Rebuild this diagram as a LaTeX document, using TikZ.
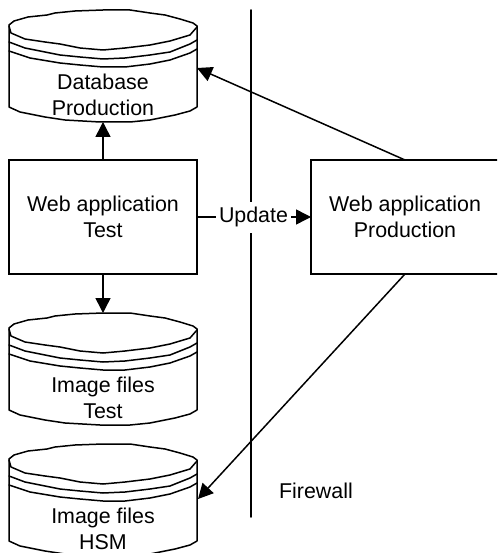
\documentclass[tikz,border=0pt]{standalone}
\usepackage{fontspec}
\setmainfont{Liberation Sans}
\usetikzlibrary{arrows.meta}
\tikzset{
  x=1pt,y=-1pt,
  every node/.style={font=\fontsize{21.4}{26}\selectfont,align=center},
  ln/.style={line width=1.5pt,line join=round,line cap=round,black},
  boxnode/.style={draw,line width=1.5pt,fill=white,minimum width=188pt,minimum height=114pt,inner sep=0pt,outer sep=0pt},
  cylnode/.style={minimum width=188pt,minimum height=112pt,inner sep=0pt,outer sep=0pt},
  conn/.style={line width=1.5pt,-{Triangle[length=15pt,width=15pt]},shorten >=0pt},
  cylinder outline/.pic={
    \filldraw[ln,fill=white] (9,25)--(14,21)--(28,17)--(47,15)--(55,13)--(75,11)--(103,10)--(130,10)--(150,13)--(165,15)--(180,19)--(193,23)--(197,26)--(197,107)--(190,111)--(175,115)--(150,120)--(130,122)--(100,122)--(65,120)--(45,117)--(20,112)--(9,107)--cycle;
    \draw[ln] (9,26)--(11,33)--(25,39)--(45,42)--(60,44)--(80,48)--(103,50)--(125,48)--(150,45)--(170,41)--(190,35)--(197,27);
    \draw[ln] (9,42)--(25,48)--(45,52)--(60,55)--(80,57)--(103,59)--(125,58)--(150,55)--(170,52)--(190,44)--(197,40);
    \draw[ln] (9,51)--(30,58)--(60,63)--(80,65)--(103,67)--(125,67)--(150,64)--(170,60)--(190,53)--(197,49);
  }
}
\begin{document}
\begin{tikzpicture}
\useasboundingbox (0,0) rectangle (497,553);
\clip (0,0) rectangle (497,553);
\fill[white] (0,0) rectangle (497,553);
% firewall
\coordinate (fwtop) at (251,10);
\coordinate (fwbot) at (251,517);
\draw[ln] (fwtop) -- (fwbot);
% cylinders
\pic at (0,0) {cylinder outline};
\pic at (0,303) {cylinder outline};
\pic at (0,434) {cylinder outline};
\node[cylnode] (db) at (103,66) {};
\node[cylnode] (imgtest) at (103,369) {};
\node[cylnode] (imghsm) at (103,500) {};
\node (dbtext) at (103,95) {Database\\Production};
\node (imgtesttext) at (103,398) {Image files\\Test};
\node (imghsmtext) at (103,529) {Image files\\HSM};
% boxes
\node[boxnode] (test) at (103,217) {Web application\\Test};
\node[boxnode] (prod) at (405,217) {Web application\\Production};
% anchors for the slanted connectors
\coordinate (prodtop) at (405,160);
\coordinate (prodbot) at (405,274);
\coordinate (dbside) at (197,68);
\coordinate (hsmside) at (198,499);
% connectors
\draw[conn] (test.north) -- (db.south);
\draw[conn] (test.south) -- (imgtest.north);
\draw[conn] (prodtop) -- (dbside);
\draw[conn] (prodbot) -- (hsmside);
\draw[conn] (test.east) -- (prod.west);
\node[fill=white,inner sep=3pt,minimum height=31pt] (update) at (253.5,217) {Update};
\node (firewall) at (316,491) {Firewall};
\end{tikzpicture}
\end{document}
